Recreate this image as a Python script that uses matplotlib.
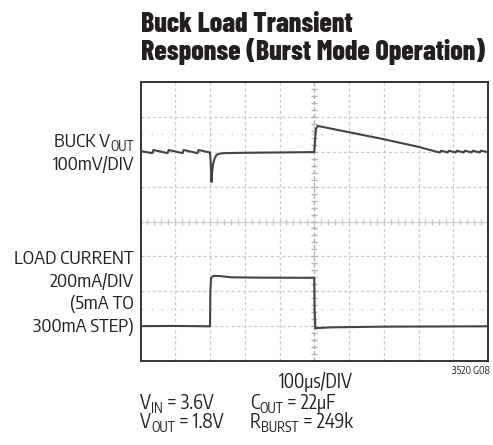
import matplotlib
matplotlib.use("Agg")
import matplotlib.pyplot as plt
from matplotlib import font_manager
from matplotlib.font_manager import FontProperties
from matplotlib.textpath import TextPath
import numpy as np

# ---------------- data ----------------
# Buck output voltage deviation (mV) vs time (us)
vout_t = [0, 34, 37, 78, 81, 121, 124, 164, 167, 199, 200, 202, 204, 206, 209, 213, 218, 225, 240,
          300, 400, 499, 500, 502, 505, 510, 600, 700, 800, 852,
          862, 865, 884, 887, 907, 910, 930, 933, 953, 956, 976, 979, 1000]
vout_mv = [2, -4, 5, -4, 5, -4, 5, -4, 5, -2, -2, -30, -87, -60, -35, -20, -10, -6, -4,
           -3, -2, -1, -1, 30, 65, 74, 56, 36, 14, 0,
           -2, 3, -2, 3, -2, 3, -2, 3, -2, 3, -2, 3, -1]

# Load current (mA) vs time (us)
iload_t = [0, 100, 199, 200, 201, 203, 210, 230, 260, 350, 499, 500, 501, 503, 510, 550, 700, 1000]
iload_ma = [5, 6, 4, 5, 200, 281, 293, 292, 285, 283, 282, 282, 100, -8, -6, -2, 2, 4]

title_lines = ["Buck Load Transient", "Response (Burst Mode Operation)"]
vout_label = [("BUCK V", False), ("OUT", True)]
vout_scale = "100mV/DIV"
load_label = ["LOAD CURRENT", "200mA/DIV", "(5mA TO", "300mA STEP)"]
time_label = "100\u03bcs/DIV"
part_code = "3520 G08"
cond_left = [[("V", False), ("IN", True), (" = 3.6V", False)],
             [("V", False), ("OUT", True), (" = 1.8V", False)]]
cond_right = [[("C", False), ("OUT", True), (" = 22\u03bcF", False)],
              [("R", False), ("BURST", True), (" = 249k", False)]]

# ---------------- fonts: pick a narrow sans whose proportions best match ----------------
def cap_h(fp):
    return TextPath((0, 0), "H", prop=fp, size=50).get_extents().height

def text_w(s, fp):
    return TextPath((0, 0), s, prop=fp, size=50).get_extents().width

def candidates(bold):
    out = []
    seen = set()
    for f in font_manager.fontManager.ttflist:
        nm = f.name.lower()
        fn = f.fname.lower()
        if fn in seen or not fn.endswith(".ttf"):
            continue
        if not ("condensed" in fn or "narrow" in fn or "condensed" in nm or "narrow" in nm):
            continue
        if "mono" in nm or "cjk" in fn:
            continue
        if f.style != "normal" or "italic" in fn or "oblique" in fn:
            continue
        w = f.weight if isinstance(f.weight, int) else (700 if "bold" in str(f.weight) else 400)
        if bold and not (650 <= w <= 800):
            continue
        if not bold and not (380 <= w <= 520):
            continue
        seen.add(fn)
        out.append(f.fname)
    return out[:30]

def pick(bold, sample, ratio):
    best = None
    for fname in candidates(bold):
        try:
            fp = FontProperties(fname=fname)
            r = text_w(sample, fp) / cap_h(fp)
        except Exception:
            continue
        d = abs(np.log(r / ratio))
        if best is None or d < best[0]:
            best = (d, fname)
    if best is None:
        return FontProperties(family="DejaVu Sans", weight="bold" if bold else "normal")
    return FontProperties(fname=best[1])

fp_bold = pick(True, title_lines[1], 346 / 19.5)
fp_reg = pick(False, load_label[0], 120 / 14.0)

W, H = 493, 445
fig = plt.figure(figsize=(W / 100, H / 100), dpi=100)
renderer = fig.canvas.get_renderer()

def width_of(s, fp, size):
    t = fig.text(0, 0, s, fontproperties=fp, fontsize=size)
    w = t.get_window_extent(renderer).width
    t.remove()
    return w

def fit_size(s, fp, target_px):
    return 10 * target_px / width_of(s, fp, 10)

# ---------------- axes / graticule ----------------
ax = fig.add_axes([140.5 / W, 84 / H, 347.5 / W, 279 / H])
ax.set_xlim(0, 10)
ax.set_ylim(0, 8)
ax.set_xticks([])
ax.set_yticks([])
for s in ax.spines.values():
    s.set_color("#333333")
    s.set_linewidth(1.4)

grid_c = "#cccccc"
for k in range(1, 10):
    if k == 5:
        continue
    ax.axvline(k, color=grid_c, lw=0.9, ls=(0, (2.5, 2)), zorder=1)
for k in range(1, 8):
    if k == 4:
        continue
    ax.axhline(k, color=grid_c, lw=0.9, ls=(0, (2.5, 2)), zorder=1)
# centre graticule lines with minor ticks
ax.axvline(5, color="#b4b4b4", lw=1.0, ls=(0, (3, 1.5)), zorder=1)
ax.axhline(4, color="#d2d2d2", lw=1.0, ls="-", zorder=1)
minor_y = np.arange(0, 8.01, 0.2)
minor_x = np.arange(0, 10.01, 0.2)
ax.plot(np.full_like(minor_y, 5), minor_y, ls="none", marker="_", ms=5, color="#b4b4b4", mew=1)
ax.plot(minor_x, np.full_like(minor_x, 4), ls="none", marker="|", ms=4, color="#c8c8c8", mew=1)
# sparse reference dots
ax.axhline(6.5, color="#cccccc", lw=1.0, ls=(0, (1.2, 6)), zorder=1)
ax.axhline(1.5, color="#cccccc", lw=1.0, ls=(0, (1.2, 6)), zorder=1)

# traces: 100 us/div, 100 mV/div (centred at 6 div), 200 mA/div (5 mA at 1 div)
vx = np.array(vout_t) / 100.0
vy = 6.0 + np.array(vout_mv) / 100.0
ix = np.array(iload_t) / 100.0
iy = 1.0 + (np.array(iload_ma) - 5) / 200.0
trace_c = "#444444"
ax.plot(vx, vy, color=trace_c, lw=1.5, zorder=3)
ax.plot(ix, iy, color=trace_c, lw=1.5, zorder=3)

# ---------------- texts ----------------
tc = "#231f20"

def put(x_px, y_px, s, fp, size, ha="left"):
    fig.text(x_px / W, 1 - y_px / H, s, fontproperties=fp, fontsize=size,
             ha=ha, va="baseline", color=tc)

def put_parts(x_px, y_px, parts, fp, size, ha="left"):
    sub_size = size * 0.72
    widths = [width_of(s, fp, sub_size if sb else size) for s, sb in parts]
    total = sum(widths)
    x = x_px - total if ha == "right" else x_px
    for (s, sb), w in zip(parts, widths):
        yy = y_px + (size * 0.30 if sb else 0)
        put(x, yy, s, fp, sub_size if sb else size)
        x += w

title_fs = min(fit_size(title_lines[1], fp_bold, 346), 22)
put(141, 32, title_lines[0], fp_bold, title_fs)
put(141, 60, title_lines[1], fp_bold, title_fs)

lab_fs = min(fit_size(load_label[0], fp_reg, 120), 15)
rx = 134
put_parts(rx, 147, vout_label, fp_reg, lab_fs, ha="right")
put(rx, 170, vout_scale, fp_reg, lab_fs, ha="right")
for i, s in enumerate(load_label):
    put(rx, 264 + 22.5 * i, s, fp_reg, lab_fs, ha="right")

bot_fs = min(fit_size(time_label, fp_reg, 74), 15)
put(316, 388, time_label, fp_reg, bot_fs, ha="center")
code_fs = min(fit_size(part_code, fp_reg, 38), 9)
put(490, 374, part_code, fp_reg, code_fs, ha="right")

for i, parts in enumerate(cond_left):
    put_parts(140, 409 + 18.5 * i, parts, fp_reg, bot_fs)
for i, parts in enumerate(cond_right):
    put_parts(250, 409 + 18.5 * i, parts, fp_reg, bot_fs)

fig.savefig("out.png", dpi=100)
